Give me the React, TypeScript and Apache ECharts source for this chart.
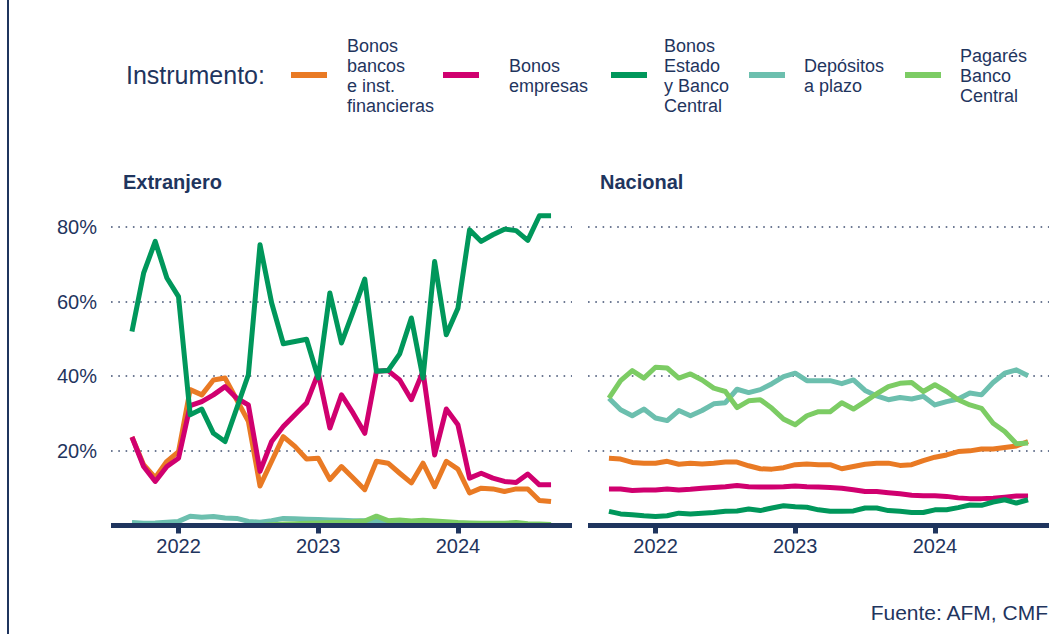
import React, { useEffect, useRef } from "react";
import * as echarts from "echarts";

// Monthly observations, Sep 2021 .. Sep 2024 (37 months)
const months: string[] = [
  "2021-09","2021-10","2021-11","2021-12",
  "2022-01","2022-02","2022-03","2022-04","2022-05","2022-06","2022-07","2022-08","2022-09","2022-10","2022-11","2022-12",
  "2023-01","2023-02","2023-03","2023-04","2023-05","2023-06","2023-07","2023-08","2023-09","2023-10","2023-11","2023-12",
  "2024-01","2024-02","2024-03","2024-04","2024-05","2024-06","2024-07","2024-08","2024-09",
];

const yearLabels = ["2022", "2023", "2024"];
const yearTickIndex = [4, 16, 28];
const yTicks = [20, 40, 60, 80];

const seriesNames = [
  "Bonos\nbancos\ne inst.\nfinancieras",
  "Bonos\nempresas",
  "Bonos\nEstado\ny Banco\nCentral",
  "Depósitos\na plazo",
  "Pagarés\nBanco\nCentral",
];
const seriesColors = ["#E97A24", "#D0006F", "#00975B", "#6CBFAE", "#7CCC64"];

// Extranjero
const extBancos = [23.7,16.3,12.8,17.2,19.8,36.4,35.0,39.0,39.5,33.7,27.9,10.6,17.2,23.8,21.2,17.8,18.0,12.3,15.8,12.7,9.6,17.2,16.7,14.0,11.4,16.7,10.4,17.2,15.1,8.7,10.0,9.8,9.1,9.8,9.8,6.7,6.4];
const extEmpresas = [23.7,15.8,11.8,15.8,18.0,32.1,33.2,35.0,37.2,34.1,32.3,14.5,22.5,26.5,29.7,32.8,40.8,26.1,35.0,30.1,24.7,41.3,41.5,39.0,33.7,41.3,18.9,31.2,27.0,12.7,14.0,12.7,11.8,11.5,13.8,10.9,10.9];
const extEstado = [52.0,67.6,76.1,66.3,61.3,29.7,31.2,24.7,22.5,31.4,40.4,75.2,59.6,48.7,49.3,49.9,39.5,62.3,48.9,57.3,66.0,41.3,41.5,46.0,55.6,39.5,70.7,51.1,58.2,79.2,76.1,77.9,79.4,79.0,76.4,83.0,83.0];
const extDepositos = [0.8,0.6,0.7,0.9,1.1,2.5,2.2,2.4,2.0,1.9,1.1,0.9,1.3,1.9,1.8,1.7,1.6,1.5,1.4,1.3,1.3,1.2,1.1,1.0,0.9,0.9,0.8,0.7,0.6,0.5,0.5,0.4,0.4,0.3,0.3,0.3,0.3];
const extPagares = [0,0,0,0,0,0,0,0,0,0,0,0,0.2,0.4,0.5,0.6,0.7,0.8,0.9,1.0,1.2,2.5,1.3,1.5,1.2,1.4,1.2,1.0,0.8,0.7,0.6,0.6,0.6,0.8,0.5,0.4,0.3];

// Nacional
const nacBancos = [18.0,17.8,16.9,16.7,16.7,17.2,16.4,16.7,16.5,16.7,17.0,17.0,16.0,15.2,15.1,15.5,16.3,16.5,16.3,16.3,15.2,15.8,16.4,16.7,16.7,16.1,16.3,17.4,18.3,18.9,19.8,20.0,20.5,20.5,20.9,21.3,22.5];
const nacEmpresas = [9.8,9.8,9.4,9.5,9.5,9.8,9.5,9.7,10.0,10.2,10.4,10.7,10.4,10.3,10.3,10.4,10.6,10.4,10.3,10.2,10.0,9.6,9.1,9.1,8.8,8.5,8.1,8.0,8.0,7.8,7.4,7.2,7.2,7.3,7.6,7.9,7.9];
const nacEstado = [3.8,3.1,2.9,2.6,2.4,2.6,3.3,3.1,3.3,3.5,3.8,3.9,4.4,4.0,4.7,5.3,5.0,4.9,4.2,3.8,3.8,3.9,4.7,4.7,4.0,3.8,3.5,3.5,4.2,4.2,4.8,5.5,5.4,6.3,6.9,6.0,6.9];
const nacDepositos = [34.1,31.0,29.4,31.2,28.8,28.1,30.8,29.4,30.8,32.6,32.9,36.5,35.6,36.4,38.0,39.9,40.8,38.8,38.8,38.8,38.0,39.0,36.2,34.7,33.7,34.3,33.9,34.6,32.3,33.2,33.9,35.5,35.0,38.3,40.8,41.7,40.1];
const nacPagares = [34.1,38.8,41.5,39.5,42.4,42.2,39.5,40.6,39.0,36.8,35.9,31.6,33.4,33.7,31.4,28.5,27.0,29.4,30.5,30.5,32.9,31.2,33.2,35.3,37.2,38.1,38.3,35.9,37.7,35.9,33.7,32.3,31.4,27.4,25.2,21.9,22.1];

const panels = [
  { title: "Extranjero", data: [extBancos, extEmpresas, extEstado, extDepositos, extPagares] },
  { title: "Nacional", data: [nacBancos, nacEmpresas, nacEstado, nacDepositos, nacPagares] },
];

const NAVY = "#1F355E";
const FONT = "'Liberation Sans', Arial, Helvetica, sans-serif";

export default function App() {
  const ref = useRef<HTMLDivElement>(null);

  useEffect(() => {
    if (!ref.current) return;
    const chart = echarts.init(ref.current, undefined, { renderer: "svg" });

    const gridLefts = [111, 588];
    const grids = gridLefts.map((l) => ({ left: l, top: 204.5, width: 461, height: 321 }));

    const xAxes = gridLefts.map((_, gi) => ({
      type: "value",
      gridIndex: gi,
      min: -1.8,
      max: 37.8,
      z: 5,
      axisLine: { show: true, lineStyle: { color: NAVY, width: 5, cap: "butt" } },
      axisTick: {
        show: true,
        customValues: yearTickIndex,
        length: 8,
        lineStyle: { color: NAVY, width: 5 },
      },
      axisLabel: {
        show: true,
        customValues: yearTickIndex,
        margin: 10,
        color: NAVY,
        fontSize: 20,
        fontFamily: FONT,
        formatter: (v: number) => {
          const k = yearTickIndex.indexOf(Math.round(v));
          return k >= 0 ? yearLabels[k] : "";
        },
      },
      splitLine: { show: false },
    }));

    const yAxes = gridLefts.map((_, gi) => ({
      type: "value",
      gridIndex: gi,
      min: 0,
      max: 86,
      axisLine: { show: false },
      axisTick: { show: false, customValues: yTicks },
      axisLabel: {
        show: gi === 0,
        customValues: yTicks,
        margin: 14,
        color: NAVY,
        fontSize: 20,
        fontFamily: FONT,
        formatter: (v: number) => `${v}%`,
      },
      splitLine: {
        show: true,
        lineStyle: { color: "#3E4D70", width: 1.6, type: [1.6, 5.7] },
      },
    }));

    const series: any[] = [];
    panels.forEach((p, gi) => {
      p.data.forEach((vals, si) => {
        series.push({
          type: "line",
          name: seriesNames[si],
          xAxisIndex: gi,
          yAxisIndex: gi,
          data: vals.map((v, i) => [i, v]),
          showSymbol: false,
          symbol: "none",
          color: seriesColors[si],
          lineStyle: { color: seriesColors[si], width: 5, join: "round", cap: "butt" },
          z: 2 + si * 0.01,
          silent: true,
        });
      });
    });

    // Legend drawn as graphic elements
    const keyX = [291, 443, 611, 749, 905];
    const textX = [347, 509, 664, 804, 960];
    const legendGraphics: any[] = [
      {
        type: "text",
        left: 126,
        top: 62,
        style: { text: "Instrumento:", fill: NAVY, font: `25px ${FONT}` },
      },
    ];
    seriesNames.forEach((n, i) => {
      legendGraphics.push({
        type: "line",
        shape: { x1: keyX[i], y1: 75, x2: keyX[i] + 36, y2: 75 },
        style: { stroke: seriesColors[i], lineWidth: 6 },
      });
      legendGraphics.push({
        type: "text",
        x: textX[i],
        y: 76,
        style: {
          text: n,
          fill: NAVY,
          font: `18px ${FONT}`,
          lineHeight: 20,
          verticalAlign: "middle",
          align: "left",
        },
      });
    });

    const option: any = {
      animation: false,
      backgroundColor: "#ffffff",
      textStyle: { fontFamily: FONT },
      grid: grids,
      xAxis: xAxes,
      yAxis: yAxes,
      series,
      graphic: [
        {
          type: "line",
          shape: { x1: 8, y1: 0, x2: 8, y2: 634 },
          style: { stroke: NAVY, lineWidth: 2 },
        },
        ...legendGraphics,
        {
          type: "text",
          x: 123,
          y: 182,
          style: { text: panels[0].title, fill: NAVY, font: `bold 20px ${FONT}`, verticalAlign: "middle" },
        },
        {
          type: "text",
          x: 600,
          y: 182,
          style: { text: panels[1].title, fill: NAVY, font: `bold 20px ${FONT}`, verticalAlign: "middle" },
        },
        {
          type: "text",
          x: 1048,
          y: 612,
          style: { text: "Fuente: AFM, CMF", fill: NAVY, font: `21px ${FONT}`, align: "right", verticalAlign: "middle" },
        },
      ],
    };

    chart.setOption(option);
    return () => chart.dispose();
  }, []);

  return (
    <div
      ref={ref}
      style={{ position: "fixed", left: 0, top: 0, width: 1055, height: 634, background: "#fff" }}
    />
  );
}
